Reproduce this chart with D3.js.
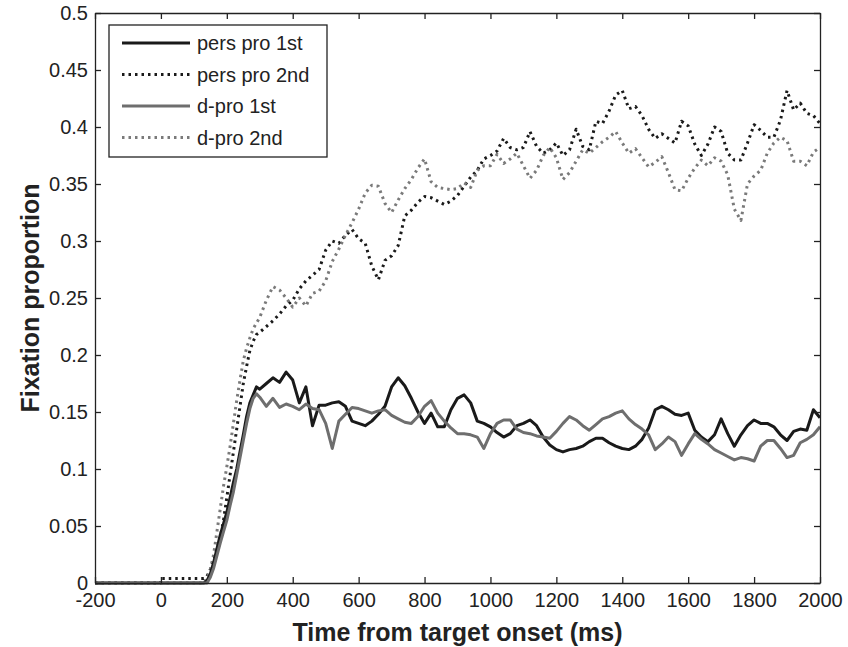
<!DOCTYPE html>
<html lang="en">
<head>
<meta charset="UTF-8">
<title>Fixation proportion</title>
<script src="https://d3js.org/d3.v7.min.js"></script>
<style>
    body { margin: 0; background: #fff; }
    svg text { font-family: "Liberation Sans", Arial, sans-serif; fill: #222; }
    .axis path, .axis line { stroke: #222; stroke-width: 1.3px; }
    .axis text { font-size: 20px; }
</style>
</head>
<body>
<svg width="848" height="647"></svg>
<script>
    // time points (ms) shared by all four series
    const timeMs = [-200, -1, 0, 130,
        140, 150, 160, 170, 180, 190, 200, 210, 220, 230, 240, 250, 260, 270, 280, 290,
        300, 320, 340, 360, 380, 400, 420, 440, 460, 480,
        500, 520, 540, 560, 580, 600, 620, 640, 660, 680,
        700, 720, 740, 760, 780, 800, 820, 840, 860, 880,
        900, 920, 940, 960, 980, 1000, 1020, 1040, 1060, 1080,
        1100, 1120, 1140, 1160, 1180, 1200, 1220, 1240, 1260, 1280,
        1300, 1320, 1340, 1360, 1380, 1400, 1420, 1440, 1460, 1480,
        1500, 1520, 1540, 1560, 1580, 1600, 1620, 1640, 1660, 1680,
        1700, 1720, 1740, 1760, 1780, 1800, 1820, 1840, 1860, 1880,
        1900, 1920, 1940, 1960, 1980, 2000];

    const persPro1st = [0, 0, 0, 0,
        0.002, 0.008, 0.018, 0.030, 0.042, 0.052, 0.062, 0.075, 0.088, 0.100, 0.115, 0.130, 0.146, 0.158, 0.165, 0.172,
        0.170, 0.175, 0.180, 0.176, 0.185, 0.178, 0.158, 0.172, 0.138, 0.156,
        0.156, 0.158, 0.159, 0.155, 0.142, 0.140, 0.138, 0.142, 0.148, 0.155,
        0.172, 0.180, 0.173, 0.162, 0.150, 0.140, 0.149, 0.137, 0.137, 0.152,
        0.162, 0.165, 0.158, 0.142, 0.140, 0.137, 0.132, 0.128, 0.131, 0.138,
        0.140, 0.143, 0.138, 0.128, 0.121, 0.117, 0.115, 0.117, 0.118, 0.120,
        0.124, 0.127, 0.127, 0.123, 0.120, 0.118, 0.117, 0.120, 0.126, 0.136,
        0.152, 0.155, 0.152, 0.148, 0.147, 0.149, 0.134, 0.128, 0.124, 0.130,
        0.144, 0.131, 0.120, 0.130, 0.138, 0.143, 0.140, 0.140, 0.137, 0.130,
        0.125, 0.133, 0.135, 0.134, 0.152, 0.145];

    const persPro2nd = [0, 0, 0.004, 0.004,
        0.006, 0.012, 0.020, 0.030, 0.040, 0.055, 0.075, 0.095, 0.115, 0.135, 0.155, 0.175, 0.190, 0.204, 0.212, 0.218,
        0.220, 0.225, 0.230, 0.236, 0.243, 0.248, 0.258, 0.265, 0.270, 0.275,
        0.292, 0.300, 0.298, 0.305, 0.310, 0.302, 0.298, 0.278, 0.266, 0.283,
        0.287, 0.296, 0.322, 0.327, 0.334, 0.339, 0.338, 0.335, 0.332, 0.335,
        0.340, 0.348, 0.356, 0.362, 0.372, 0.375, 0.379, 0.390, 0.382, 0.380,
        0.382, 0.396, 0.383, 0.377, 0.380, 0.386, 0.375, 0.380, 0.398, 0.383,
        0.380, 0.405, 0.403, 0.414, 0.428, 0.432, 0.416, 0.418, 0.410, 0.398,
        0.390, 0.394, 0.390, 0.386, 0.405, 0.401, 0.385, 0.375, 0.385, 0.400,
        0.396, 0.377, 0.371, 0.371, 0.386, 0.402, 0.397, 0.391, 0.391, 0.406,
        0.432, 0.415, 0.421, 0.412, 0.410, 0.403];

    const dPro1st = [0, 0, 0, 0,
        0, 0.005, 0.013, 0.024, 0.035, 0.045, 0.055, 0.068, 0.080, 0.095, 0.110, 0.125, 0.140, 0.153, 0.162, 0.166,
        0.163, 0.155, 0.162, 0.154, 0.157, 0.155, 0.152, 0.157, 0.153, 0.152,
        0.140, 0.118, 0.142, 0.148, 0.154, 0.153, 0.151, 0.149, 0.151, 0.152,
        0.147, 0.144, 0.141, 0.140, 0.146, 0.155, 0.160, 0.149, 0.142, 0.136,
        0.131, 0.131, 0.130, 0.128, 0.118, 0.131, 0.140, 0.143, 0.143, 0.135,
        0.132, 0.131, 0.129, 0.128, 0.127, 0.133, 0.140, 0.146, 0.143, 0.138,
        0.134, 0.139, 0.144, 0.146, 0.149, 0.151, 0.144, 0.139, 0.135, 0.130,
        0.117, 0.122, 0.128, 0.124, 0.112, 0.122, 0.131, 0.126, 0.122, 0.117,
        0.114, 0.111, 0.108, 0.110, 0.109, 0.107, 0.120, 0.125, 0.125, 0.118,
        0.110, 0.112, 0.123, 0.126, 0.130, 0.137];

    const dPro2nd = [0, 0, 0, 0,
        0.004, 0.012, 0.025, 0.045, 0.065, 0.085, 0.102, 0.120, 0.140, 0.160, 0.178, 0.195, 0.206, 0.215, 0.223, 0.228,
        0.233, 0.248, 0.260, 0.257, 0.250, 0.242, 0.250, 0.243, 0.254, 0.256,
        0.265, 0.282, 0.293, 0.305, 0.316, 0.328, 0.342, 0.349, 0.348, 0.333,
        0.325, 0.336, 0.346, 0.354, 0.364, 0.372, 0.352, 0.347, 0.346, 0.345,
        0.346, 0.351, 0.347, 0.362, 0.366, 0.366, 0.376, 0.368, 0.372, 0.377,
        0.366, 0.355, 0.362, 0.375, 0.382, 0.373, 0.354, 0.360, 0.370, 0.380,
        0.377, 0.382, 0.387, 0.391, 0.396, 0.386, 0.377, 0.381, 0.373, 0.365,
        0.369, 0.374, 0.360, 0.345, 0.344, 0.355, 0.364, 0.371, 0.366, 0.373,
        0.370, 0.358, 0.328, 0.318, 0.350, 0.357, 0.362, 0.377, 0.386, 0.391,
        0.388, 0.370, 0.370, 0.366, 0.378, 0.382];

    const seriesNames = ["pers pro 1st", "pers pro 2nd", "d-pro 1st", "d-pro 2nd"];
    const seriesValues = [persPro1st, persPro2nd, dPro1st, dPro2nd];
    const seriesColors = ["#1a1a1a", "#1a1a1a", "#6e6e6e", "#7a7a7a"];
    const seriesDotted = [false, true, false, true];

    const xTicks = [-200, 0, 200, 400, 600, 800, 1000, 1200, 1400, 1600, 1800, 2000];
    const yTicks = [0, 0.05, 0.1, 0.15, 0.2, 0.25, 0.3, 0.35, 0.4, 0.45, 0.5];

    const svg = d3.select("svg");
    const plotLeft = 95, plotRight = 820, plotTop = 13, plotBottom = 583;

    const xScale = d3.scaleLinear().domain([-200, 2000]).range([plotLeft, plotRight]);
    const yScale = d3.scaleLinear().domain([0, 0.5]).range([plotBottom, plotTop]);

    // lines
    const line = d3.line()
        .x((d, i) => xScale(timeMs[i]))
        .y(d => yScale(d));

    // draw dotted ones first, solid on top
    const order = [1, 3, 0, 2];
    order.forEach(k => {
        svg.append("path")
            .datum(seriesValues[k])
            .attr("d", line)
            .attr("fill", "none")
            .attr("stroke", seriesColors[k])
            .attr("stroke-width", 3)
            .attr("stroke-linejoin", "round")
            .attr("stroke-dasharray", seriesDotted[k] ? "2.5,4" : null);
    });

    // axes with inward ticks, boxed like matlab
    const fmt = d => String(d);
    svg.append("g").attr("class", "axis")
        .attr("transform", `translate(0,${plotBottom})`)
        .call(d3.axisBottom(xScale).tickValues(xTicks).tickFormat(fmt).tickSizeInner(-6).tickSizeOuter(0).tickPadding(10));
    svg.append("g").attr("class", "axis")
        .attr("transform", `translate(0,${plotTop})`)
        .call(d3.axisTop(xScale).tickValues(xTicks).tickFormat("").tickSizeInner(-6).tickSizeOuter(0));
    svg.append("g").attr("class", "axis")
        .attr("transform", `translate(${plotLeft},0)`)
        .call(d3.axisLeft(yScale).tickValues(yTicks).tickFormat(fmt).tickSizeInner(-6).tickSizeOuter(0).tickPadding(7));
    svg.append("g").attr("class", "axis")
        .attr("transform", `translate(${plotRight},0)`)
        .call(d3.axisRight(yScale).tickValues(yTicks).tickFormat("").tickSizeInner(-6).tickSizeOuter(0));

    // axis titles
    svg.append("text")
        .attr("x", (plotLeft + plotRight) / 2)
        .attr("y", 641)
        .attr("text-anchor", "middle")
        .style("font-size", "25px")
        .style("font-weight", "bold")
        .text("Time from target onset (ms)");
    svg.append("text")
        .attr("transform", `translate(39,${(plotTop + plotBottom) / 2}) rotate(-90)`)
        .attr("text-anchor", "middle")
        .style("font-size", "25px")
        .style("font-weight", "bold")
        .text("Fixation proportion");

    // legend
    const legend = svg.append("g");
    legend.append("rect")
        .attr("x", 109).attr("y", 25)
        .attr("width", 218).attr("height", 132)
        .attr("fill", "#fff")
        .attr("stroke", "#222")
        .attr("stroke-width", 1.3);
    seriesNames.forEach((name, i) => {
        const y = 43 + i * 31.5;
        legend.append("line")
            .attr("x1", 122).attr("x2", 190)
            .attr("y1", y).attr("y2", y)
            .attr("stroke", seriesColors[i])
            .attr("stroke-width", 3)
            .attr("stroke-dasharray", seriesDotted[i] ? "2.5,4" : null);
        legend.append("text")
            .attr("x", 197).attr("y", y)
            .attr("dy", "0.35em")
            .style("font-size", "20px")
            .text(name);
    });
</script>
</body>
</html>
